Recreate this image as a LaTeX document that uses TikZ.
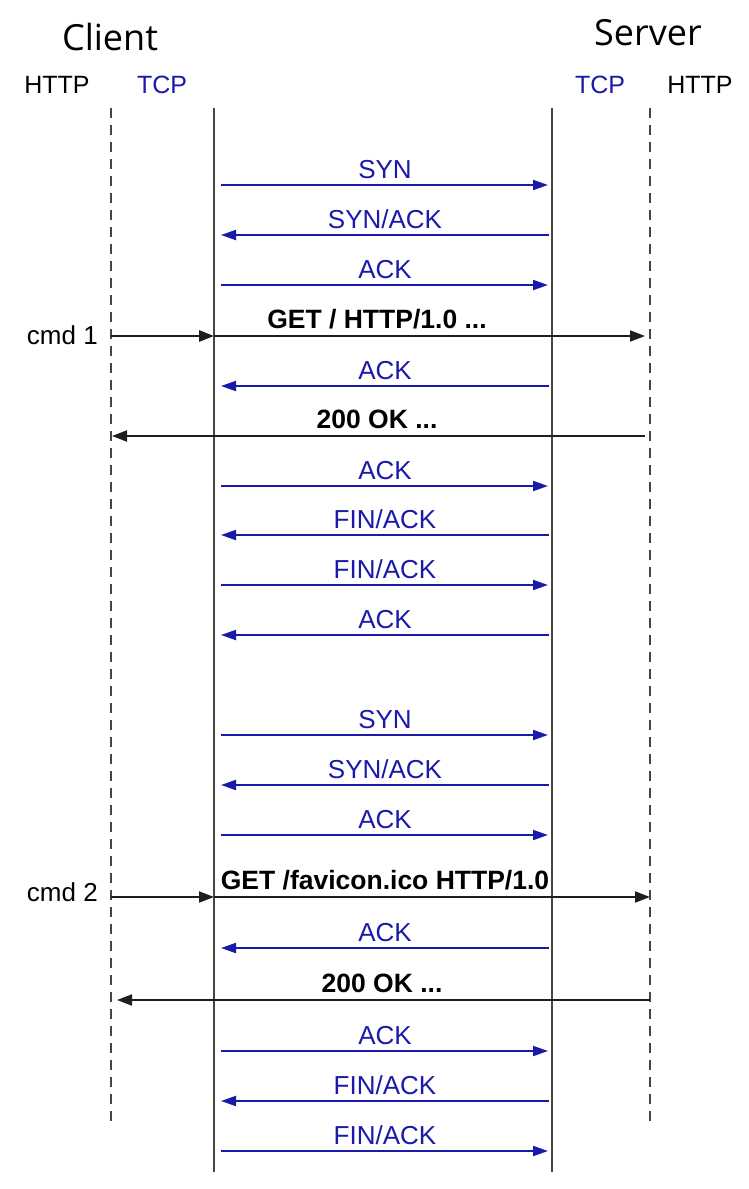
\documentclass[tikz,border=0pt]{standalone}
\usepackage{fontspec}
\setmainfont{Liberation Sans}
\newfontfamily\titlefont{Open Sans}
\usetikzlibrary{arrows.meta}
\definecolor{tcpblue}{RGB}{25,25,170}
\definecolor{lifegray}{RGB}{70,70,70}
\definecolor{msgblack}{RGB}{30,30,30}
\begin{document}
\begin{tikzpicture}[x=1pt,y=-1pt,
  lbl/.style={font=\fontsize{26}{30}\selectfont, inner sep=0pt, anchor=base},
  tcplbl/.style={lbl, text=tcpblue},
  httplbl/.style={inner sep=0pt, anchor=base, font=\fontsize{26.5}{30}\selectfont\bfseries},
  head/.style={font=\fontsize{25}{30}\selectfont, inner sep=0pt},
  title/.style={font=\titlefont\fontsize{36}{40}\selectfont, inner sep=0pt},
  tcparrow/.style={draw=tcpblue, line width=2pt, -{Triangle[length=15pt,width=10pt]}},
  httparrow/.style={draw=msgblack, line width=1.9pt, -{Triangle[length=15pt,width=11pt]}},
  solidlife/.style={draw=lifegray, line width=2pt},
  dashlife/.style={draw=lifegray, line width=2pt, dash pattern=on 10pt off 7pt},
]
\useasboundingbox (0,0) rectangle (748,1189);

% titles and headings
\node[title] (client) at (110,37) {Client};
\node[title] (server) at (648,33) {Server};
\node[head] (chttp) at (57,85) {HTTP};
\node[head, text=tcpblue] (ctcp) at (162,85) {TCP};
\node[head, text=tcpblue] (stcp) at (600,85) {TCP};
\node[head] (shttp) at (700,85) {HTTP};

% lifelines
\coordinate (chTop) at (111,108); \coordinate (chBot) at (111,1127);
\coordinate (ctTop) at (214,108); \coordinate (ctBot) at (214,1172);
\coordinate (stTop) at (552,108); \coordinate (stBot) at (552,1172);
\coordinate (shTop) at (650,108); \coordinate (shBot) at (650,1127);
\draw[dashlife] (chTop) -- (chBot);
\draw[solidlife] (ctTop) -- (ctBot);
\draw[solidlife] (stTop) -- (stBot);
\draw[dashlife] (shTop) -- (shBot);

\newcommand\tcpright[3]{%
  \coordinate (#1a) at (221,#2);
  \coordinate (#1b) at (548,#2);
  \draw[tcparrow] (#1a) -- (#1b);
  \node[tcplbl] (#1l) at (385,#2-7) {#3};
}
\newcommand\tcpleft[3]{%
  \coordinate (#1a) at (549,#2);
  \coordinate (#1b) at (221,#2);
  \draw[tcparrow] (#1a) -- (#1b);
  \node[tcplbl] (#1l) at (385,#2-7) {#3};
}

\tcpright{m1}{185}{SYN}
\tcpleft{m2}{235}{SYN/ACK}
\tcpright{m3}{285}{ACK}

% cmd 1
\coordinate (c1h) at (111,336);
\coordinate (c1t) at (214,336);
\coordinate (c1s) at (645,336);
\draw[httparrow, line width=2.8pt] (c1h) -- (c1t);
\draw[httparrow] (c1t) -- (c1s);
\node[lbl, anchor=base east] (cmd1) at (98,344) {cmd 1};
\node[httplbl] (get1) at (377,328) {GET / HTTP/1.0 ...};

\tcpleft{m5}{386}{ACK}

% 200 OK
\coordinate (ok1s) at (645,436);
\coordinate (ok1c) at (112,436);
\draw[httparrow] (ok1s) -- (ok1c);
\node[httplbl] (ok1) at (377,428) {200 OK ...};

\tcpright{m7}{486}{ACK}
\tcpleft{m8}{535}{FIN/ACK}
\tcpright{m9}{585}{FIN/ACK}
\tcpleft{m10}{635}{ACK}

\tcpright{m11}{735}{SYN}
\tcpleft{m12}{785}{SYN/ACK}
\tcpright{m13}{835}{ACK}

% cmd 2
\coordinate (c2h) at (111,897);
\coordinate (c2t) at (214,897);
\coordinate (c2s) at (650,897);
\draw[httparrow] (c2h) -- (c2t);
\draw[httparrow] (c2t) -- (c2s);
\node[lbl, anchor=base east] (cmd2) at (98,901) {cmd 2};
\node[httplbl] (get2) at (385,889) {GET /favicon.ico HTTP/1.0};

\tcpleft{m15}{948}{ACK}

\coordinate (ok2s) at (650,1000);
\coordinate (ok2c) at (117,1000);
\draw[httparrow] (ok2s) -- (ok2c);
\node[httplbl] (ok2) at (382,992) {200 OK ...};

\tcpright{m17}{1051}{ACK}
\tcpleft{m18}{1101}{FIN/ACK}
\tcpright{m19}{1151}{FIN/ACK}
\end{tikzpicture}
\end{document}
